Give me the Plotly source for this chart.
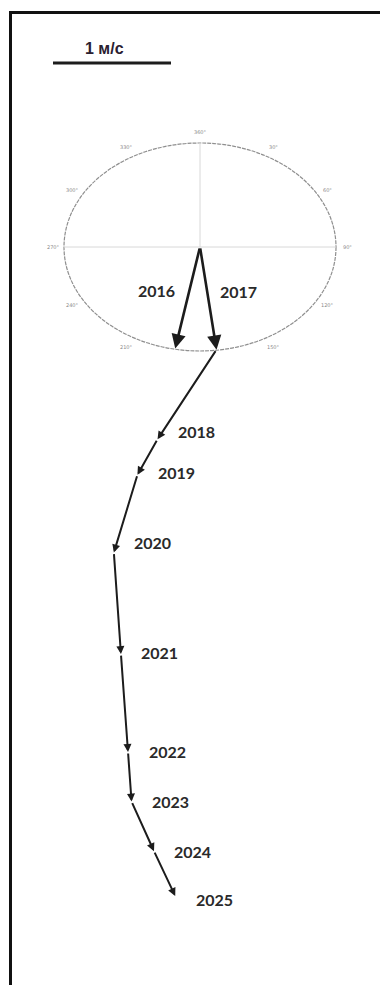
import math
import plotly.graph_objects as go

# Annual mean current vectors, m/s (u = east, v = north)
years_origin = ["2016", "2017"]
u_origin = [-0.21, 0.14]
v_origin = [-0.86, -0.87]

# Progressive vector chain, drawn head-to-tail from the end of the 2017 vector
years_chain = ["2018", "2019", "2020", "2021", "2022", "2023", "2024", "2025"]
u_chain = [-0.50, -0.17, -0.20, 0.06, 0.06, 0.03, 0.19, 0.18]
v_chain = [-0.76, -0.30, -0.66, -0.86, -0.83, -0.42, -0.42, -0.38]

compass_labels = ["360°", "30°", "60°", "90°", "120°", "150°", "180°",
                  "210°", "240°", "270°", "300°", "330°"]
compass_angles = [0, 30, 60, 90, 120, 150, 180, 210, 240, 270, 300, 330]

scale_value = 1.0
scale_text = "1 м/с"

# ---- layout geometry (pixels) ----
W, H = 380, 985
PX = 118.0                      # pixels per 1 m/s
CX, CY = 200, 247               # compass centre in page pixels
RX, RY = 136, 104               # compass ellipse half-axes, px

x_lo, x_hi = -CX / PX, (W - CX) / PX
y_lo, y_hi = -(H - CY) / PX, CY / PX


def px_x(p):
    return (p - CX) / PX


def px_y(p):
    return (CY - p) / PX


fig = go.Figure()
fig.add_trace(go.Scatter(x=[0], y=[0], mode="markers",
                         marker=dict(size=1, color="rgba(0,0,0,0)"),
                         hoverinfo="skip", showlegend=False))

shapes = []
annotations = []

ink = "#1c1c1c"
label_font = dict(family="Lato, Open Sans, sans-serif", size=16, color="#2a2a2a")

# compass ellipse and crosshair
shapes.append(dict(type="circle", xref="x", yref="y",
                   x0=-RX / PX, x1=RX / PX, y0=-RY / PX, y1=RY / PX,
                   line=dict(color="#8f8f8f", width=1.2, dash="4px,1px")))
shapes.append(dict(type="line", xref="x", yref="y",
                   x0=-RX / PX, x1=RX / PX, y0=0, y1=0,
                   line=dict(color="#d8d8d8", width=1)))
shapes.append(dict(type="line", xref="x", yref="y",
                   x0=0, x1=0, y0=0, y1=RY / PX,
                   line=dict(color="#d8d8d8", width=1)))

for ang, txt in zip(compass_angles, compass_labels):
    if ang == 180:
        continue
    a = math.radians(ang)
    off = 11
    annotations.append(dict(
        x=(RX + off) * math.sin(a) / PX, y=(RY + off) * math.cos(a) / PX,
        xref="x", yref="y", text=txt, showarrow=False,
        font=dict(family="DejaVu Sans", size=5, color="#8a8a8a")))

# vectors from the origin
for yr, u, v, dx in zip(years_origin, u_origin, v_origin, [-31, 30]):
    annotations.append(dict(
        x=u, y=v, ax=0, ay=0, xref="x", yref="y", axref="x", ayref="y",
        text="", showarrow=True, arrowhead=2, arrowsize=1.1,
        arrowwidth=2.6, arrowcolor=ink))
    annotations.append(dict(
        x=u / 2, y=v / 2 + 0.06, xref="x", yref="y", text="<b>%s</b>" % yr,
        showarrow=False, xshift=dx, font=label_font))

# chain of yearly vectors
label_dy = [8, 2, 10, 2, 1, 0, 0, -3]
px0, py0 = u_origin[-1], v_origin[-1]
for yr, u, v, dy in zip(years_chain, u_chain, v_chain, label_dy):
    x1, y1 = px0 + u, py0 + v
    annotations.append(dict(
        x=x1, y=y1, ax=px0, ay=py0, xref="x", yref="y", axref="x", ayref="y",
        text="", showarrow=True, arrowhead=2, arrowsize=0.8,
        arrowwidth=2.0, arrowcolor=ink))
    annotations.append(dict(
        x=x1, y=y1, xref="x", yref="y", text="<b>%s</b>" % yr,
        showarrow=False, xshift=39, yshift=dy, font=label_font))
    px0, py0 = x1, y1

# scale bar
bar_x0, bar_y = px_x(53), px_y(63)
shapes.append(dict(type="line", xref="x", yref="y",
                   x0=bar_x0, x1=bar_x0 + scale_value, y0=bar_y, y1=bar_y,
                   line=dict(color=ink, width=3)))
annotations.append(dict(
    x=bar_x0 + scale_value / 2, y=bar_y, xref="x", yref="y",
    text="<b>%s</b>" % scale_text, showarrow=False, yshift=15, xshift=-8,
    font=dict(family="Liberation Sans, Arial, sans-serif", size=16, color="#2a2030")))

# frame lines (left and top)
shapes.append(dict(type="line", xref="paper", yref="paper",
                   x0=10.5 / W, x1=10.5 / W, y0=0, y1=1 - 12 / H,
                   line=dict(color="#111111", width=3)))
shapes.append(dict(type="line", xref="paper", yref="paper",
                   x0=9 / W, x1=1, y0=1 - 12.5 / H, y1=1 - 12.5 / H,
                   line=dict(color="#111111", width=3)))

fig.update_layout(
    width=W, height=H, margin=dict(l=0, r=0, t=0, b=0),
    paper_bgcolor="white", plot_bgcolor="white",
    xaxis=dict(range=[x_lo, x_hi], visible=False, fixedrange=True),
    yaxis=dict(range=[y_lo, y_hi], visible=False, fixedrange=True),
    shapes=shapes, annotations=annotations, showlegend=False,
)

fig.write_html("out.html", config={"displayModeBar": False})
